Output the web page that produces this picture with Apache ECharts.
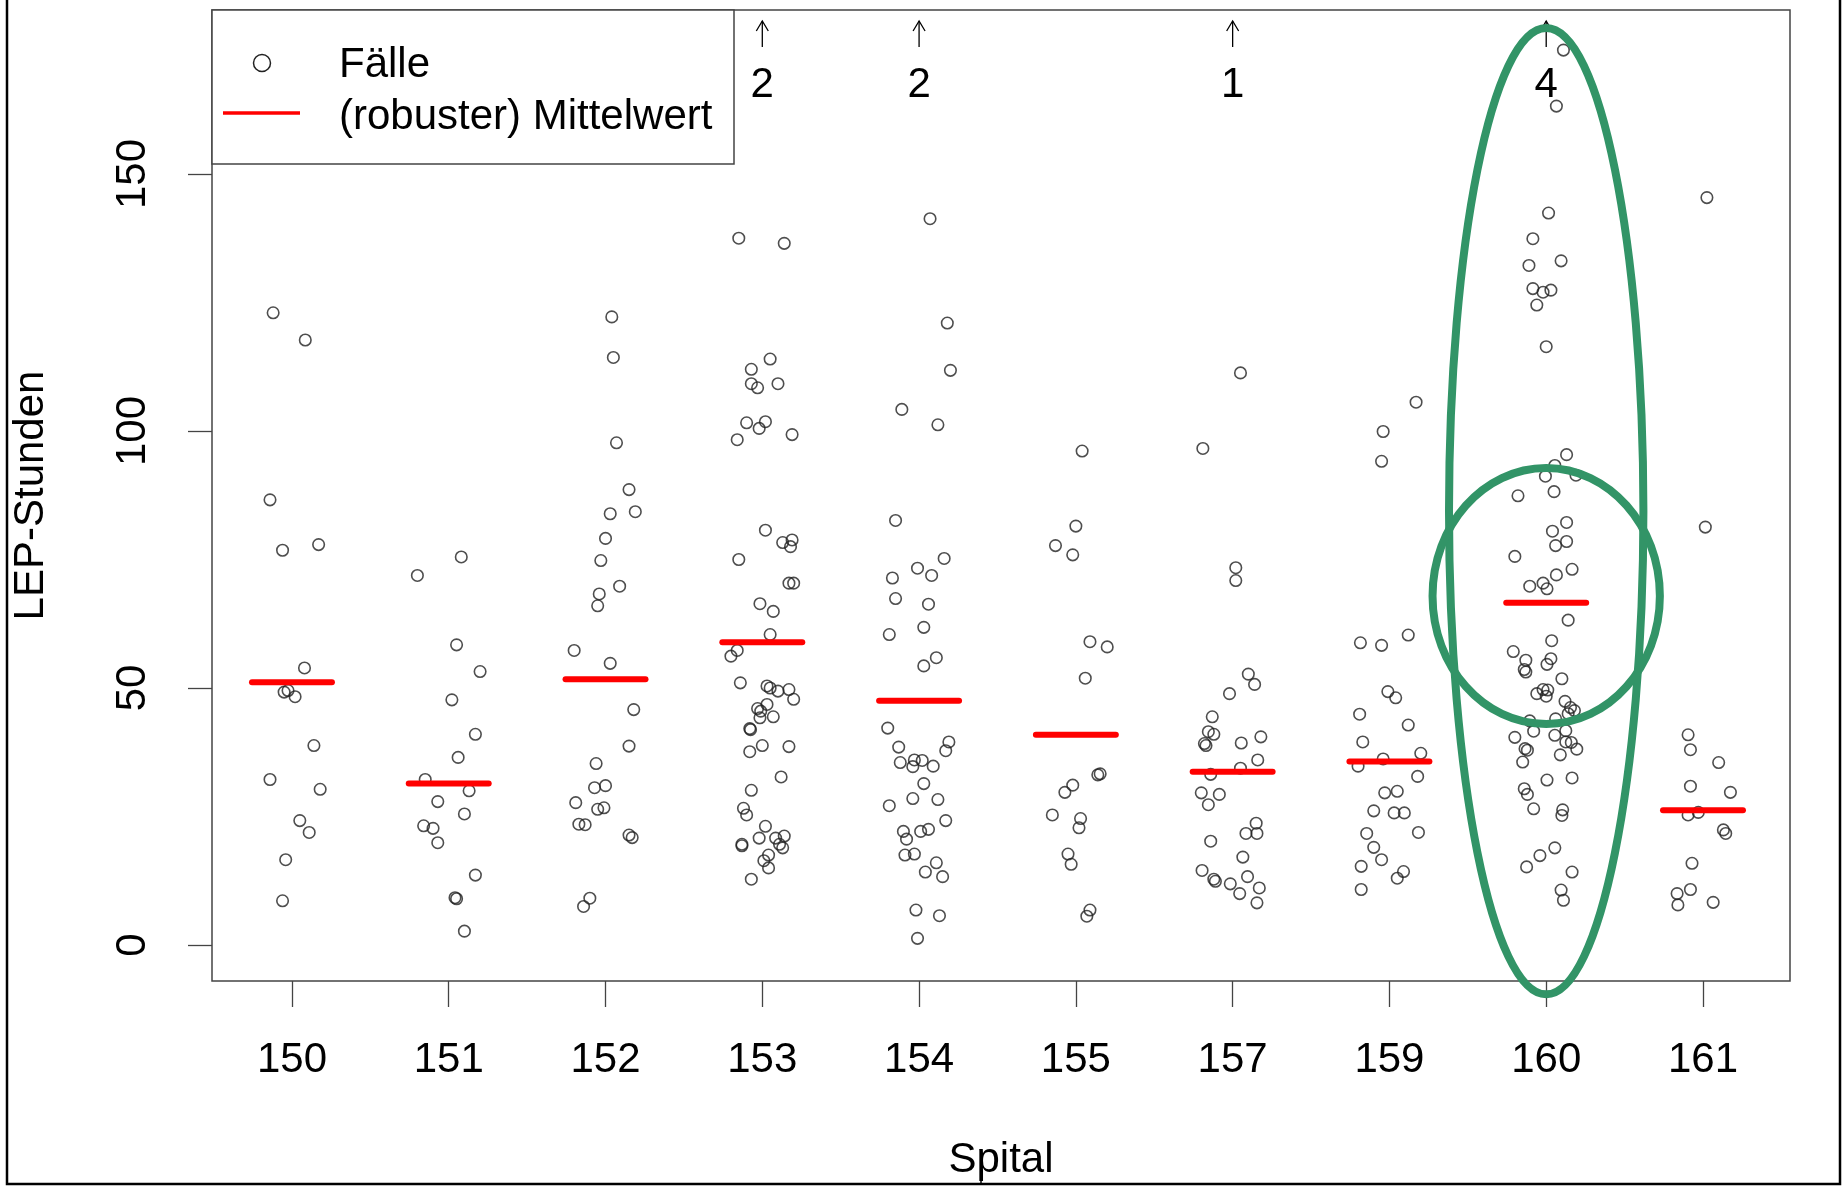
<!DOCTYPE html>
<html><head><meta charset="utf-8">
<script src="https://cdn.jsdelivr.net/npm/echarts@6/dist/echarts.min.js"></script>
<style>html,body{margin:0;padding:0;background:#fff}#c{width:1847px;height:1186px}</style>
</head><body><div id="c"></div>
<script>
// ---- data ----
const categories = ['150','151','152','153','154','155','157','159','160','161'];
const yTicks = [0, 50, 100, 150];
// each case: [horizontal jitter (category units), LEP-Stunden]
const cases150 = [[-0.12,123.0],[0.085,117.7],[-0.14,86.6],[-0.06,76.8],[0.17,77.9],[0.08,53.9],[-0.05,49.2],[-0.025,49.5],[0.02,48.3],[0.14,38.8],[-0.14,32.2],[0.18,30.3],[0.05,24.2],[0.11,21.9],[-0.04,16.6],[-0.06,8.6]];
const cases151 = [[0.08,75.5],[-0.2,71.9],[0.05,58.4],[0.2,53.2],[0.02,47.7],[0.17,41.0],[0.06,36.5],[-0.15,32.2],[0.13,30.0],[-0.07,27.9],[0.1,25.5],[-0.16,23.2],[-0.1,22.7],[-0.07,19.9],[0.17,13.6],[0.04,9.2],[0.05,9.0],[0.1,2.7]];
const cases152 = [[0.04,122.2],[0.05,114.3],[0.07,97.7],[0.15,88.6],[0.19,84.3],[0.03,83.9],[0.0,79.1],[-0.03,74.8],[0.09,69.8],[-0.04,68.3],[-0.05,66.0],[-0.2,57.3],[0.03,54.8],[0.18,45.8],[0.15,38.7],[-0.06,35.3],[-0.07,30.6],[0.0,31.0],[-0.19,27.7],[-0.05,26.4],[-0.01,26.7],[-0.17,23.5],[-0.13,23.4],[0.15,21.4],[0.17,20.9],[-0.14,7.5],[-0.1,9.1]];
const cases153 = [[-0.15,137.5],[0.14,136.5],[0.05,114.0],[-0.07,112.0],[-0.07,109.2],[-0.03,108.4],[0.1,109.2],[-0.1,101.6],[0.02,101.8],[-0.02,100.5],[-0.16,98.3],[0.19,99.3],[0.02,80.7],[0.13,78.3],[0.19,78.8],[0.18,77.5],[-0.15,75.0],[0.17,70.4],[0.2,70.4],[-0.015,66.4],[0.07,64.9],[0.05,60.4],[-0.16,57.3],[-0.2,56.2],[-0.14,51.0],[0.03,50.4],[0.05,50.0],[0.1,49.4],[0.17,49.7],[0.2,47.8],[-0.03,46.0],[0.03,46.8],[-0.01,45.5],[-0.015,44.2],[0.07,44.4],[-0.08,42.1],[-0.075,41.9],[-0.08,37.6],[0.0,38.8],[0.17,38.6],[0.12,32.7],[-0.07,30.1],[-0.12,26.6],[-0.1,25.3],[0.02,23.1],[-0.02,20.8],[-0.13,19.6],[-0.13,19.3],[0.085,20.8],[0.14,21.2],[0.11,19.6],[0.13,18.9],[0.04,17.5],[0.01,16.4],[0.04,15.0],[-0.07,12.8]];
const cases154 = [[0.07,141.3],[0.18,121.0],[0.2,111.8],[-0.11,104.2],[0.12,101.2],[-0.15,82.6],[0.16,75.2],[-0.01,73.3],[0.08,71.9],[-0.17,71.4],[-0.15,67.4],[0.06,66.3],[0.03,61.8],[-0.19,60.4],[0.11,55.9],[0.03,54.3],[-0.2,42.2],[0.19,39.5],[-0.13,38.5],[0.17,37.8],[-0.12,35.5],[-0.03,36.0],[0.02,35.9],[-0.04,34.7],[0.09,34.8],[0.03,31.4],[-0.04,28.5],[0.12,28.3],[-0.19,27.1],[0.17,24.2],[-0.1,22.1],[0.01,22.1],[0.06,22.5],[-0.08,20.6],[-0.09,17.5],[-0.03,17.7],[0.04,14.2],[0.11,16.0],[0.15,13.3],[-0.02,6.8],[0.13,5.7],[-0.01,1.3]];
const cases155 = [[0.04,96.1],[0.0,81.5],[-0.13,77.7],[-0.02,75.9],[0.09,59.0],[0.2,58.0],[0.06,51.9],[0.14,33.1],[0.155,33.3],[-0.02,31.1],[-0.07,29.7],[-0.15,25.3],[0.03,24.6],[0.02,22.8],[-0.05,17.7],[-0.03,15.7],[0.09,6.8],[0.07,5.6]];
const cases157 = [[0.05,111.3],[-0.19,96.6],[0.02,73.4],[0.02,70.9],[0.1,52.7],[0.14,50.7],[-0.02,48.9],[-0.13,44.4],[-0.155,41.5],[-0.12,41.0],[-0.18,39.2],[-0.17,38.8],[0.055,39.3],[0.18,40.5],[0.16,36.0],[0.05,34.4],[-0.14,33.2],[-0.2,29.6],[-0.085,29.3],[-0.155,27.3],[0.15,23.7],[0.085,21.7],[0.155,21.7],[-0.14,20.2],[0.065,17.1],[-0.195,14.5],[-0.12,12.8],[-0.11,12.4],[-0.015,11.9],[0.095,13.3],[0.045,10.0],[0.17,11.1],[0.155,8.2]];
const cases159 = [[0.17,105.6],[-0.04,99.9],[-0.05,94.1],[-0.185,58.8],[-0.05,58.3],[0.12,60.3],[-0.01,49.3],[0.04,48.1],[-0.19,44.9],[0.12,42.8],[-0.17,39.5],[-0.2,34.8],[-0.04,36.2],[0.2,37.3],[0.18,32.8],[-0.03,29.6],[0.05,29.9],[-0.1,26.1],[0.03,25.7],[0.095,25.7],[-0.145,21.7],[0.185,21.9],[-0.1,19.0],[-0.05,16.6],[-0.18,15.3],[0.05,13.0],[0.09,14.3],[-0.18,10.8]];
const cases160 = [[0.11,174.1],[0.065,163.2],[0.015,142.4],[-0.085,137.4],[-0.11,132.2],[0.095,133.1],[-0.085,127.7],[-0.02,127.0],[0.03,127.4],[-0.06,124.5],[0.0,116.4],[0.13,95.4],[0.055,93.3],[-0.005,91.2],[0.19,91.4],[-0.18,87.4],[0.05,88.2],[0.13,82.2],[0.04,80.5],[0.13,78.5],[0.06,77.7],[-0.2,75.6],[0.165,73.1],[0.065,72.0],[-0.105,69.8],[-0.02,70.4],[0.005,69.3],[0.14,63.2],[0.035,59.2],[-0.21,57.1],[0.03,55.7],[-0.13,55.4],[0.005,54.6],[-0.14,53.6],[-0.13,53.1],[0.1,51.8],[-0.06,48.9],[-0.02,49.7],[0.01,49.6],[0.0,48.4],[0.12,47.4],[0.155,46.2],[0.18,45.6],[0.14,45.0],[-0.105,43.6],[0.06,44.0],[-0.2,40.4],[-0.08,41.6],[0.055,40.8],[0.125,41.7],[0.125,39.5],[0.16,39.4],[0.195,38.1],[-0.135,38.2],[-0.12,37.9],[0.09,37.0],[-0.15,35.6],[0.165,32.5],[0.005,32.1],[-0.14,30.4],[-0.12,29.3],[-0.08,26.5],[0.105,26.3],[0.1,25.2],[0.055,18.9],[-0.04,17.4],[-0.125,15.2],[0.165,14.2],[0.095,10.7],[0.11,8.7]];
const cases161 = [[0.025,145.4],[0.015,81.3],[-0.095,40.9],[-0.08,38.0],[0.1,35.5],[-0.08,30.9],[0.175,29.7],[-0.095,25.3],[-0.03,25.8],[0.13,22.4],[0.145,21.7],[-0.07,15.9],[-0.165,10.0],[-0.08,10.8],[-0.16,7.8],[0.065,8.3]];
const robustMeans = [51.1, 31.4, 51.7, 58.9, 47.5, 40.9, 33.7, 35.7, 66.6, 26.2];
const outOfRangeCats = ['153', '154', '157', '160'];
const outOfRangeCounts = [2, 2, 1, 4];
// annotation ellipses: [category, centre value, half width (category units), half height (value units)]
const highlightEllipses = [['160', 84.4, 0.62, 94.0], ['160', 67.9, 0.725, 24.9]];

// ---- build ----
const allCases = [cases150, cases151, cases152, cases153, cases154, cases155, cases157, cases159, cases160, cases161];
const scatterData = [];
allCases.forEach((arr, i) => arr.forEach(p => scatterData.push([i + p[0], p[1]])));
const catIdx = categories.map((c, i) => i);
const FONT = '"Liberation Sans", Arial, Helvetica, sans-serif';
const FS = 42;

const chart = echarts.init(document.getElementById('c'), null, {renderer: 'canvas'});
chart.setOption({
  animation: false,
  backgroundColor: '#ffffff',
  grid: {left: 212, right: 57, top: 10, bottom: 205, show: true, borderColor: '#444', borderWidth: 1.5,
         backgroundColor: 'transparent', containLabel: false, outerBoundsMode: 'none'},
  xAxis: {
    type: 'value', min: -0.51, max: 9.555,
    splitLine: {show: false}, axisLine: {show: false, onZero: false},
    axisTick: {show: true, inside: false, length: 26, lineStyle: {color: '#444', width: 1.3}, customValues: catIdx},
    axisLabel: {customValues: catIdx, formatter: v => categories[Math.round(v)], fontSize: FS, color: '#000',
                fontFamily: FONT, margin: 58},
    name: 'Spital', nameLocation: 'middle', nameGap: 158,
    nameTextStyle: {fontSize: FS, color: '#000', fontFamily: FONT}
  },
  yAxis: {
    type: 'value', min: -7, max: 181.9,
    splitLine: {show: false}, axisLine: {show: false, onZero: false},
    axisTick: {show: true, inside: false, length: 24, lineStyle: {color: '#444', width: 1.3}, customValues: yTicks},
    axisLabel: {customValues: yTicks, rotate: 90, fontSize: FS, color: '#000', fontFamily: FONT, margin: 58},
    name: 'LEP-Stunden', nameLocation: 'middle', nameGap: 160, nameRotate: 90,
    nameTextStyle: {fontSize: FS, color: '#000', fontFamily: FONT}
  },
  series: [
    {
      type: 'scatter', name: 'Fälle', data: scatterData, symbol: 'circle', symbolSize: 11.5,
      itemStyle: {color: 'rgba(0,0,0,0)', borderColor: '#222', borderWidth: 1.6}, z: 3
    },
    {
      type: 'custom', name: '(robuster) Mittelwert', z: 4,
      data: robustMeans.map((m, i) => [i, m]),
      renderItem: (params, api) => {
        const i = api.value(0), m = api.value(1);
        const p1 = api.coord([i - 0.255, m]), p2 = api.coord([i + 0.255, m]);
        return {type: 'line', shape: {x1: p1[0], y1: p1[1], x2: p2[0], y2: p2[1]},
                style: {stroke: '#ff0000', lineWidth: 6, lineCap: 'round'}};
      }
    },
    {
      type: 'custom', name: 'outside', z: 5,
      data: outOfRangeCats.map((c, k) => [categories.indexOf(c), outOfRangeCounts[k]]),
      renderItem: (params, api) => {
        const x = api.coord([api.value(0), 0])[0];
        const top = params.coordSys.y;
        return {type: 'group', children: [
          {type: 'line', shape: {x1: x, y1: top + 37, x2: x, y2: top + 11}, style: {stroke: '#000', lineWidth: 1.3}},
          {type: 'polyline', shape: {points: [[x - 6, top + 21], [x, top + 11], [x + 6, top + 21]]},
           style: {stroke: '#000', lineWidth: 1.3, fill: null}},
          {type: 'text', x: x, y: top + 75, style: {text: String(api.value(1)), fontSize: FS, fontFamily: FONT,
           fill: '#000', align: 'center', verticalAlign: 'middle'}}
        ]};
      }
    },
    {
      type: 'custom', name: 'highlight', z: 10, clip: false,
      data: highlightEllipses.map(e => [categories.indexOf(e[0]), e[1], e[2], e[3]]),
      renderItem: (params, api) => {
        const c = api.coord([api.value(0), api.value(1)]);
        const s = api.size([api.value(2), api.value(3)]);
        return {type: 'ellipse', shape: {cx: c[0], cy: c[1], rx: s[0], ry: s[1]},
                style: {stroke: '#329467', lineWidth: 8, fill: null}};
      }
    }
  ],
  graphic: [
    {type: 'rect', shape: {x: 212, y: 10, width: 522, height: 154}, style: {fill: '#fff', stroke: '#444', lineWidth: 1.5}, z: 20},
    {type: 'circle', shape: {cx: 262, cy: 63, r: 8.5}, style: {fill: null, stroke: '#222', lineWidth: 1.5}, z: 21},
    {type: 'line', shape: {x1: 223, y1: 113, x2: 300, y2: 113}, style: {stroke: '#ff0000', lineWidth: 3.5}, z: 21},
    {type: 'text', x: 339, y: 65, style: {text: 'Fälle', fontSize: FS, fontFamily: FONT, fill: '#000', verticalAlign: 'middle'}, z: 21},
    {type: 'text', x: 339, y: 117, style: {text: '(robuster) Mittelwert', fontSize: FS, fontFamily: FONT, fill: '#000', verticalAlign: 'middle'}, z: 21},
    {type: 'polyline', shape: {points: [[7, 0], [7, 1184], [1840, 1184], [1840, 0]]}, style: {stroke: '#000', lineWidth: 2.5, fill: null}, z: 21},
    {type: 'line', shape: {x1: 981, y1: 1174, x2: 981, y2: 1184}, style: {stroke: '#000', lineWidth: 1.5}, z: 21}
  ]
});
</script>
</body></html>
